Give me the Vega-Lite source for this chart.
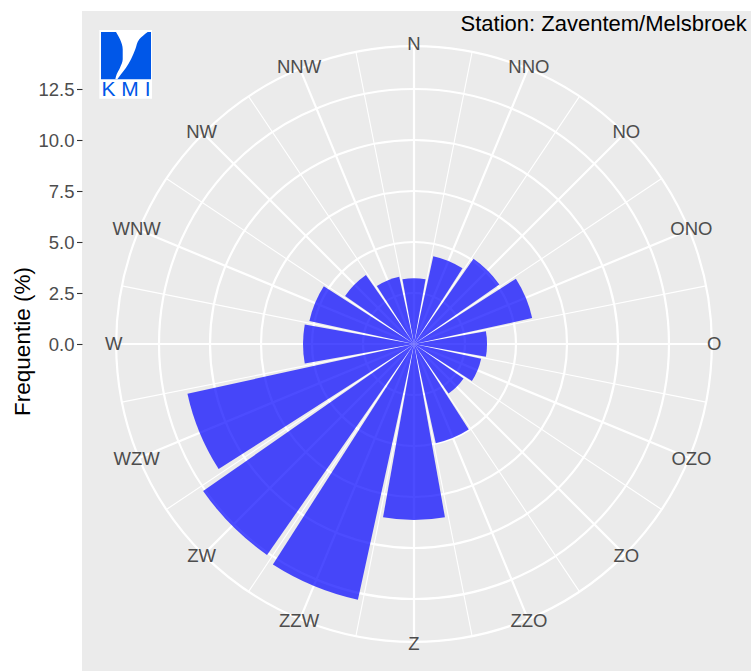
{
  "$schema": "https://vega.github.io/schema/vega-lite/v6.json",
  "width": 669,
  "height": 660,
  "autosize": {"type": "none"},
  "padding": {"left": 82, "top": 11, "right": 0, "bottom": 0},
  "background": "white",
  "config": {
    "view": {"fill": "#EBEBEB", "stroke": null},
    "font": "Liberation Sans",
    "axisY": {"domain": false, "grid": false, "labelFontSize": 18.5, "labelColor": "#4D4D4D", "labelFont": "Liberation Sans", "tickColor": "#333333", "tickSize": 5.5, "tickWidth": 1.1, "labelPadding": 2.5, "titleFontSize": 22.5, "titleColor": "#000000", "titleFontWeight": "normal", "titleFont": "Liberation Sans", "titlePadding": 3}
  },
  "datasets": {
    "wind": [
      {"dir": "N", "freq": 3.22},
      {"dir": "NNO", "freq": 4.41},
      {"dir": "NO", "freq": 5.1},
      {"dir": "ONO", "freq": 5.93},
      {"dir": "O", "freq": 3.58},
      {"dir": "OZO", "freq": 3.37},
      {"dir": "ZO", "freq": 2.96},
      {"dir": "ZZO", "freq": 4.98},
      {"dir": "Z", "freq": 8.63},
      {"dir": "ZZW", "freq": 12.83},
      {"dir": "ZW", "freq": 12.6},
      {"dir": "WZW", "freq": 11.37},
      {"dir": "W", "freq": 5.44},
      {"dir": "WNW", "freq": 5.25},
      {"dir": "NW", "freq": 4.12},
      {"dir": "NNW", "freq": 3.38}
    ],
    "dirs": [
      {"dir": "N", "deg": 0}, {"dir": "NNO", "deg": 22.5}, {"dir": "NO", "deg": 45}, {"dir": "ONO", "deg": 67.5},
      {"dir": "O", "deg": 90}, {"dir": "OZO", "deg": 112.5}, {"dir": "ZO", "deg": 135}, {"dir": "ZZO", "deg": 157.5},
      {"dir": "Z", "deg": 180}, {"dir": "ZZW", "deg": 202.5}, {"dir": "ZW", "deg": 225}, {"dir": "WZW", "deg": 247.5},
      {"dir": "W", "deg": 270}, {"dir": "WNW", "deg": 292.5}, {"dir": "NW", "deg": 315}, {"dir": "NNW", "deg": 337.5}
    ],
    "minor": [
      {"deg": 11.25}, {"deg": 33.75}, {"deg": 56.25}, {"deg": 78.75},
      {"deg": 101.25}, {"deg": 123.75}, {"deg": 146.25}, {"deg": 168.75},
      {"deg": 191.25}, {"deg": 213.75}, {"deg": 236.25}, {"deg": 258.75},
      {"deg": 281.25}, {"deg": 303.75}, {"deg": 326.25}, {"deg": 348.75}
    ],
    "rings": [{"r": 2.5}, {"r": 5}, {"r": 7.5}, {"r": 10}, {"r": 12.5}, {"r": 14.6}],
    "station": [{"label": "Station: Zaventem/Melsbroek"}],
    "logo": [{"name": "KMI"}],
    "swoosh": [
      {"yy": 15.294, "xl": -14.608, "xr": -13.054},
      {"yy": 14.936, "xl": -14.412, "xr": -13.466},
      {"yy": 14.446, "xl": -14.279, "xr": -13.662},
      {"yy": 13.956, "xl": -14.279, "xr": -13.873},
      {"yy": 13.544, "xl": -14.412, "xr": -14.118},
      {"yy": 13.221, "xl": -14.574, "xr": -14.363},
      {"yy": 12.975, "xl": -14.642, "xr": -14.544}
    ]
  },
  "layer": [
    {
      "data": {"name": "rings"},
      "mark": {"type": "arc", "filled": false, "stroke": "white", "strokeWidth": 2.2},
      "encoding": {
        "x": {"datum": 0, "type": "quantitative", "scale": {"domain": [-16.275, 16.52], "nice": false, "zero": false}, "axis": null},
        "y": {"datum": 0, "type": "quantitative", "scale": {"domain": [-16.029, 16.324], "nice": false, "zero": false}, "axis": {"title": "Frequentie (%)", "values": [0, 2.5, 5, 7.5, 10, 12.5], "format": ".1f"}},
        "radius": {"field": "r", "type": "quantitative", "stack": false, "scale": {"type": "linear", "domain": [0, 14.6], "range": [0, 297.84], "zero": true, "nice": false}},
        "theta": {"value": 0},
        "theta2": {"value": 6.2832}
      }
    },
    {
      "data": {"name": "minor"},
      "mark": {"type": "arc", "filled": false, "stroke": "white", "strokeWidth": 1.1},
      "encoding": {
        "x": {"datum": 0, "type": "quantitative"},
        "y": {"datum": 0, "type": "quantitative"},
        "theta": {"field": "deg", "type": "quantitative", "stack": false, "scale": {"domain": [0, 360], "range": [0, 6.283185307], "zero": true, "nice": false}},
        "theta2": {"field": "deg"},
        "radius": {"datum": 14.6, "type": "quantitative"},
        "radius2": {"datum": 0}
      }
    },
    {
      "data": {"name": "dirs"},
      "mark": {"type": "arc", "filled": false, "stroke": "white", "strokeWidth": 2.2},
      "encoding": {
        "x": {"datum": 0, "type": "quantitative"},
        "y": {"datum": 0, "type": "quantitative"},
        "theta": {"field": "deg", "type": "quantitative", "stack": false, "scale": {"domain": [0, 360], "range": [0, 6.283185307], "zero": true, "nice": false}},
        "theta2": {"field": "deg"},
        "radius": {"datum": 14.6, "type": "quantitative"},
        "radius2": {"datum": 0}
      }
    },
    {
      "data": {"name": "wind"},
      "mark": {"type": "arc", "fill": "#0000FF", "fillOpacity": 0.7},
      "encoding": {
        "x": {"datum": 0, "type": "quantitative"},
        "y": {"datum": 0, "type": "quantitative"},
        "theta": {"field": "dir", "type": "nominal", "sort": ["N", "NNO", "NO", "ONO", "O", "OZO", "ZO", "ZZO", "Z", "ZZW", "ZW", "WZW", "W", "WNW", "NW", "NNW"], "scale": {"type": "band", "range": [-0.19635, 6.08684], "paddingInner": 0.1, "paddingOuter": 0.05}},
        "radius": {"field": "freq", "type": "quantitative", "stack": false}
      }
    },
    {
      "data": {"name": "dirs"},
      "mark": {"type": "text", "fontSize": 18.5, "color": "#4D4D4D", "align": "center", "baseline": "middle", "font": "Liberation Sans"},
      "encoding": {
        "x": {"datum": 0, "type": "quantitative"},
        "y": {"datum": 0, "type": "quantitative"},
        "text": {"field": "dir"},
        "theta": {"field": "deg", "type": "quantitative", "scale": {"domain": [0, 360], "range": [0, 6.283185307], "zero": true, "nice": false}},
        "radius": {"datum": 14.72, "type": "quantitative"}
      }
    },
    {
      "data": {"name": "logo"},
      "mark": {"type": "rect", "fill": "white"},
      "encoding": {
        "x": {"datum": -15.426, "type": "quantitative"},
        "x2": {"datum": -12.843},
        "y": {"datum": 15.392, "type": "quantitative"},
        "y2": {"datum": 12.025}
      }
    },
    {
      "data": {"name": "logo"},
      "mark": {"type": "rect", "fill": "#0057E8"},
      "encoding": {
        "x": {"datum": -15.343, "type": "quantitative"},
        "x2": {"datum": -12.892},
        "y": {"datum": 15.294, "type": "quantitative"},
        "y2": {"datum": 12.975}
      }
    },
    {
      "data": {"name": "swoosh"},
      "mark": {"type": "area", "orient": "horizontal", "fill": "#FFFFFF", "interpolate": "monotone"},
      "encoding": {
        "y": {"field": "yy", "type": "quantitative"},
        "x": {"field": "xl", "type": "quantitative", "stack": null},
        "x2": {"field": "xr"}
      }
    },
    {
      "data": {"name": "logo"},
      "mark": {"type": "text", "text": "K M I", "fontSize": 21, "color": "#0057E8", "align": "center", "baseline": "alphabetic", "font": "Liberation Sans"},
      "encoding": {
        "x": {"datum": -14.12, "type": "quantitative"},
        "y": {"datum": 12.157, "type": "quantitative"}
      }
    },
    {
      "data": {"name": "station"},
      "mark": {"type": "text", "fontSize": 22, "color": "#000000", "align": "right", "baseline": "alphabetic", "font": "Liberation Sans"},
      "encoding": {
        "text": {"field": "label"},
        "x": {"datum": 16.31, "type": "quantitative"},
        "y": {"datum": 15.34, "type": "quantitative"}
      }
    }
  ],
  "resolve": {"scale": {"theta": "independent"}}
}
